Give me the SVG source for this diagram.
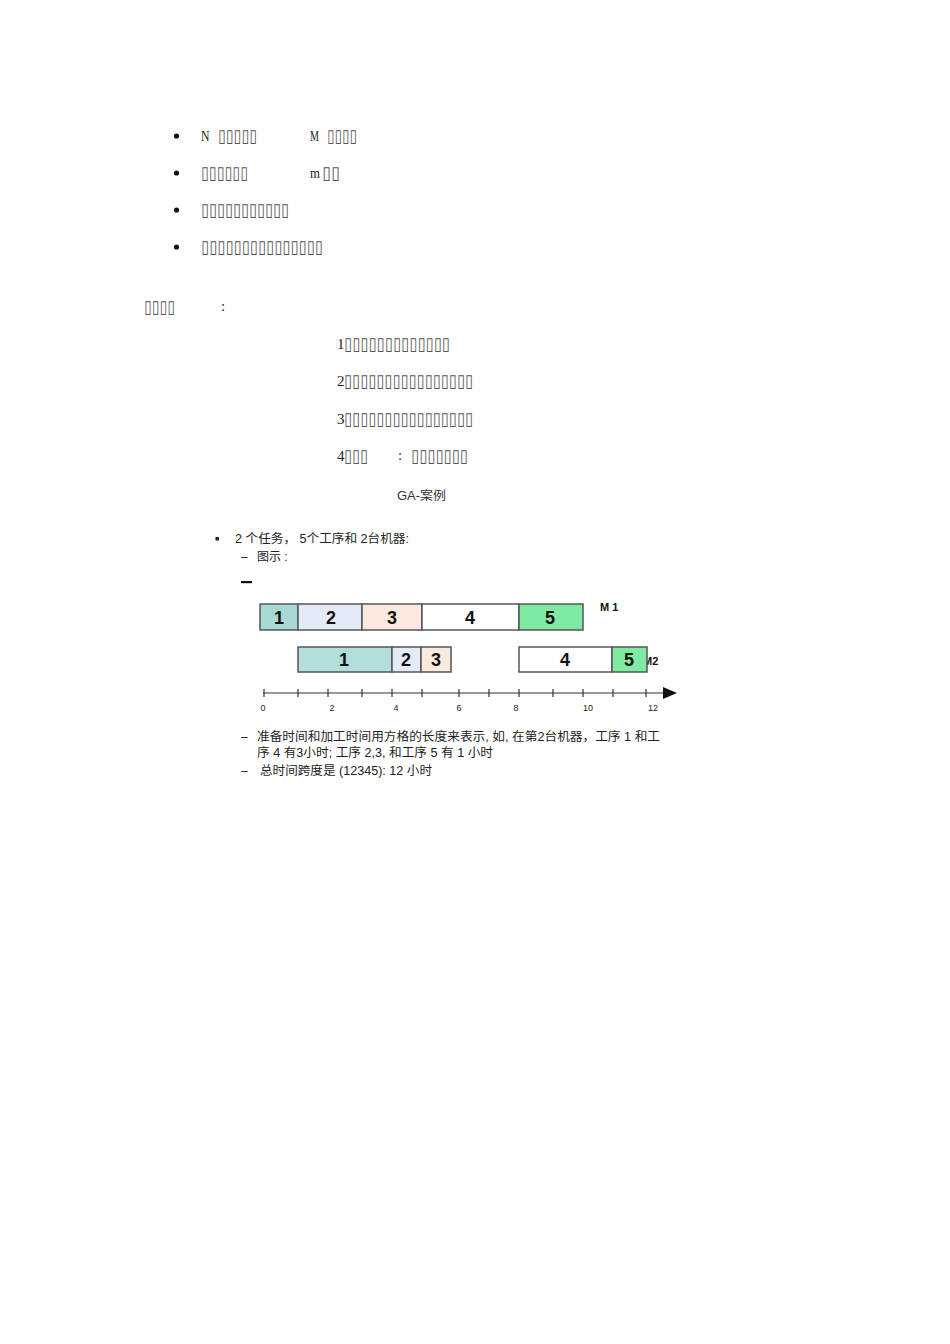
<svg xmlns="http://www.w3.org/2000/svg" width="950" height="1344" viewBox="0 0 950 1344">
<style>
.tf{font-family:"DejaVu Sans",sans-serif;font-size:18px;fill:#555}
.sr{font-family:"Liberation Serif",serif;font-size:15px;fill:#222}
.cn{font-family:"Liberation Sans","Noto Sans CJK SC",sans-serif;font-size:12px;fill:#222}
.num{font-family:"Liberation Sans",Arial,sans-serif;font-size:18px;font-weight:bold;fill:#111;text-anchor:middle}
.lbl{font-family:"Liberation Sans",Arial,sans-serif;font-size:11px;font-weight:bold;fill:#111}
.ax{font-family:"Liberation Sans",Arial,sans-serif;font-size:9px;fill:#222;text-anchor:middle}
.bx{stroke:#555;stroke-width:1.5}
.tk{stroke:#333;stroke-width:1.2}
</style>
<rect width="950" height="1344" fill="#fff"/>
<g id="top-list">
<circle cx="176.5" cy="136" r="2.6" fill="#111"/>
<circle cx="176.5" cy="173" r="2.6" fill="#111"/>
<circle cx="176.5" cy="210" r="2.6" fill="#111"/>
<circle cx="176.5" cy="247" r="2.6" fill="#111"/>
<text class="sr" x="201" y="141" textLength="8.5" lengthAdjust="spacingAndGlyphs">N</text>
<text class="tf" x="218" y="142" textLength="39" lengthAdjust="spacingAndGlyphs">▯▯▯▯▯</text>
<text class="sr" x="310" y="141" textLength="9" lengthAdjust="spacingAndGlyphs">M</text>
<text class="tf" x="327" y="142" textLength="30" lengthAdjust="spacingAndGlyphs">▯▯▯▯</text>
<text class="tf" x="201" y="179" textLength="47" lengthAdjust="spacingAndGlyphs">▯▯▯▯▯▯</text>
<text class="sr" x="310" y="178" textLength="10" lengthAdjust="spacingAndGlyphs">m</text>
<text class="tf" x="322" y="179" textLength="18" lengthAdjust="spacingAndGlyphs">▯▯</text>
<text class="tf" x="201" y="216" textLength="88" lengthAdjust="spacingAndGlyphs">▯▯▯▯▯▯▯▯▯▯▯</text>
<text class="tf" x="201" y="253" textLength="122" lengthAdjust="spacingAndGlyphs">▯▯▯▯▯▯▯▯▯▯▯▯▯▯▯</text>
</g>
<g id="steps">
<text class="tf" x="144" y="313" textLength="31" lengthAdjust="spacingAndGlyphs">▯▯▯▯</text>
<text class="sr" x="221" y="311">:</text>
<text class="sr" x="337" y="349">1</text>
<text class="tf" x="344" y="350" textLength="106" lengthAdjust="spacingAndGlyphs">▯▯▯▯▯▯▯▯▯▯▯▯▯</text>
<text class="sr" x="337" y="386">2</text>
<text class="tf" x="344" y="387" textLength="129" lengthAdjust="spacingAndGlyphs">▯▯▯▯▯▯▯▯▯▯▯▯▯▯▯▯</text>
<text class="sr" x="337" y="424">3</text>
<text class="tf" x="344" y="425" textLength="129" lengthAdjust="spacingAndGlyphs">▯▯▯▯▯▯▯▯▯▯▯▯▯▯▯▯</text>
<text class="sr" x="337" y="461">4</text>
<text class="tf" x="344" y="462" textLength="24" lengthAdjust="spacingAndGlyphs">▯▯▯</text>
<text class="sr" x="398" y="460">:</text>
<text class="tf" x="411" y="462" textLength="57" lengthAdjust="spacingAndGlyphs">▯▯▯▯▯▯▯</text>
</g>
<g id="ga-title">
<text class="cn" x="397" y="500" style="fill:#333" textLength="49" lengthAdjust="spacingAndGlyphs">GA-案例</text>
</g>
<g id="intro">
<rect x="215.5" y="537" width="3.5" height="3.5" fill="#222"/>
<text class="cn" x="235" y="543" textLength="174" lengthAdjust="spacingAndGlyphs">2 个任务， 5个工序和 2台机器:</text>
<text class="cn" x="241" y="561">–</text>
<text class="cn" x="257" y="561">图示 :</text>
<rect x="241" y="581" width="11" height="2.2" fill="#111"/>
</g>
<g id="m1-row">
<rect class="bx" x="260" y="604" width="38" height="26" fill="#a8d8d3"/>
<text class="num" x="279" y="624">1</text>
<rect class="bx" x="298" y="604" width="64" height="26" fill="#e5eaf8"/>
<text class="num" x="331" y="624">2</text>
<rect class="bx" x="362" y="604" width="60" height="26" fill="#fbe8de"/>
<text class="num" x="392" y="624">3</text>
<rect class="bx" x="422" y="604" width="97" height="26" fill="#ffffff"/>
<text class="num" x="470" y="624">4</text>
<rect class="bx" x="519" y="604" width="64" height="26" fill="#7eeaa2"/>
<text class="num" x="550" y="624">5</text>
<text class="lbl" x="600" y="611">M 1</text>
</g>
<g id="m2-row">
<text class="lbl" x="643" y="665">M2</text>
<rect class="bx" x="298" y="647" width="94" height="25" fill="#b2dfdb"/>
<text class="num" x="344" y="666">1</text>
<rect class="bx" x="392" y="647" width="29" height="25" fill="#e5eaf8"/>
<text class="num" x="406" y="666">2</text>
<rect class="bx" x="421" y="647" width="30" height="25" fill="#fbe8de"/>
<text class="num" x="436" y="666">3</text>
<rect class="bx" x="519" y="647" width="93" height="25" fill="#ffffff"/>
<text class="num" x="565" y="666">4</text>
<rect class="bx" x="612" y="647" width="35" height="25" fill="#7eeaa2"/>
<text class="num" x="629" y="666">5</text>
</g>
<g id="connectors">
<line class="tk" x1="263" y1="693" x2="665" y2="693"/>
<polygon points="663,687 677,693 663,699" fill="#111"/>
<g class="tk">
<line x1="264" y1="689" x2="264" y2="697"/>
<line x1="298" y1="689" x2="298" y2="697"/>
<line x1="328" y1="689" x2="328" y2="697"/>
<line x1="362" y1="689" x2="362" y2="697"/>
<line x1="392" y1="689" x2="392" y2="697"/>
<line x1="422" y1="689" x2="422" y2="697"/>
<line x1="459" y1="689" x2="459" y2="697"/>
<line x1="489" y1="689" x2="489" y2="697"/>
<line x1="519" y1="689" x2="519" y2="697"/>
<line x1="553" y1="689" x2="553" y2="697"/>
<line x1="583" y1="689" x2="583" y2="697"/>
<line x1="613" y1="689" x2="613" y2="697"/>
<line x1="646" y1="689" x2="646" y2="697"/>
</g>
</g>
<g id="axis-labels">
<text class="ax" x="263" y="711">0</text>
<text class="ax" x="332" y="711">2</text>
<text class="ax" x="396" y="711">4</text>
<text class="ax" x="459" y="711">6</text>
<text class="ax" x="516" y="711">8</text>
<text class="ax" x="588" y="711">10</text>
<text class="ax" x="653" y="711">12</text>
</g>
<g id="notes">
<text class="cn" x="241" y="741">–</text>
<text class="cn" x="257" y="741" textLength="403" lengthAdjust="spacingAndGlyphs">准备时间和加工时间用方格的长度来表示, 如, 在第2台机器，工序 1 和工</text>
<text class="cn" x="257" y="757" textLength="236" lengthAdjust="spacingAndGlyphs">序 4 有3小时; 工序 2,3, 和工序 5 有 1 小时</text>
<text class="cn" x="241" y="775">–</text>
<text class="cn" x="260" y="775" textLength="172" lengthAdjust="spacingAndGlyphs">总时间跨度是 (12345): 12 小时</text>
</g>
</svg>
